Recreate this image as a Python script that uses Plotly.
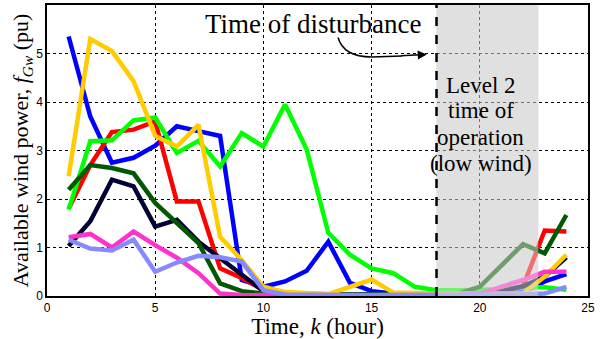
import plotly.graph_objects as go

hours = list(range(1, 25))

blue = [5.35, 3.7, 2.75, 2.85, 3.1, 3.5, 3.4, 3.3, 0.33, 0.19, 0.3, 0.52, 1.12, 0.27, 0.1,
        0.05, 0.04, 0.03, 0.03, 0.03, 0.04, 0.08, 0.3, 0.45]
red = [1.8, 2.7, 3.38, 3.43, 3.6, 1.95, 1.95, 0.57, 0.37, 0.12, 0.05, 0.03, 0.02, 0.02, 0.02,
       0.02, 0.02, 0.02, 0.02, 0.05, 0.1, 0.2, 1.35, 1.33]
yellow = [2.47, 5.3, 5.05, 4.43, 3.3, 3.08, 3.53, 1.22, 0.74, 0.19, 0.08, 0.05, 0.04, 0.19, 0.34,
          0.07, 0.05, 0.05, 0.05, 0.05, 0.05, 0.05, 0.4, 0.85]
green = [1.78, 3.19, 3.21, 3.62, 3.68, 2.95, 3.2, 2.67, 3.36, 3.08, 3.95, 3.02, 1.3, 0.85, 0.57,
         0.47, 0.19, 0.12, 0.12, 0.12, 0.14, 0.18, 0.18, 0.13]
darkgreen = [2.19, 2.7, 2.64, 2.53, 1.92, 1.5, 1.09, 0.26, 0.1, 0.05, 0.04, 0.03, 0.03, 0.03, 0.03,
             0.03, 0.03, 0.03, 0.05, 0.19, 0.64, 1.07, 0.88, 1.67]
navy = [1.03, 1.54, 2.4, 2.26, 1.43, 1.57, 1.12, 0.78, 0.45, 0.1, 0.05, 0.03, 0.03, 0.03, 0.03,
        0.03, 0.03, 0.03, 0.03, 0.05, 0.1, 0.2, 0.4, 0.8]
pink = [1.21, 1.28, 1.0, 1.33, 1.05, 0.79, 0.47, 0.05, 0.02, 0.01, 0.01, 0.01, 0.01, 0.01, 0.01,
        0.01, 0.01, 0.01, 0.02, 0.05, 0.19, 0.33, 0.5, 0.5]
lightblue = [1.16, 0.98, 0.94, 1.16, 0.5, 0.69, 0.83, 0.8, 0.71, 0.12, 0.03, 0.02, 0.02, 0.02, 0.02,
             0.02, 0.02, 0.02, 0.02, 0.02, 0.02, 0.03, 0.05, 0.19]

series = [
    ("Farm 1", blue, "#0000ff"),
    ("Farm 2", red, "#ff0000"),
    ("Farm 3", green, "#00ff00"),
    ("Farm 4", navy, "#000033"),
    ("Farm 5", darkgreen, "#005800"),
    ("Farm 6", yellow, "#ffcc00"),
    ("Farm 7", pink, "#ff33cc"),
    ("Farm 8", lightblue, "#8888ff"),
]

disturbance_hour = 18
level2_end = 22.7

x_ticks = [0, 5, 10, 15, 20, 25]
y_ticks = [0, 1, 2, 3, 4, 5, 6]

serif = "Liberation Serif"
sans = "Liberation Sans"

fig = go.Figure()
for name, vals, col in series:
    fig.add_trace(go.Scatter(x=hours, y=vals, mode="lines", name=name,
                             line=dict(color=col, width=4.5), showlegend=False))

# shaded region: opaque below grid, translucent above lines
fig.add_shape(type="rect", xref="x", yref="y", x0=disturbance_hour, x1=level2_end, y0=0, y1=6,
              fillcolor="#e0e0e0", line_width=0, layer="below")
fig.add_shape(type="rect", xref="x", yref="y", x0=disturbance_hour, x1=level2_end, y0=0, y1=6,
              fillcolor="rgba(224,224,224,0.5)", line_width=0, layer="above")
fig.add_shape(type="line", xref="x", yref="y", x0=disturbance_hour, x1=disturbance_hour, y0=0, y1=6,
              line=dict(color="black", width=2.5, dash="dash"), layer="above")

# curved arrow
fig.add_shape(type="path", xref="x", yref="y",
              path="M 13.45,5.33 Q 13.7,4.93 15.0,4.93 L 16.4,4.95",
              line=dict(color="black", width=1.5), layer="above")
fig.add_annotation(x=17.55, y=4.98, ax=16.3, ay=4.95, xref="x", yref="y", axref="x", ayref="y",
                   text="", showarrow=True, arrowhead=2, arrowsize=1.2, arrowwidth=1.5,
                   arrowcolor="black")

fig.add_annotation(x=12.3, y=5.6, xref="x", yref="y", text="Time of disturbance",
                   showarrow=False, font=dict(family=serif, size=27, color="black"),
                   xanchor="center", yanchor="middle")

level_lines = ["Level 2", "time of", "operation", "(low wind)"]
level_y = [4.35, 3.82, 3.26, 2.74]
for txt, yy in zip(level_lines, level_y):
    fig.add_annotation(x=20.05, y=yy, xref="x", yref="y", text=txt, showarrow=False,
                       font=dict(family=serif, size=23, color="black"),
                       xanchor="center", yanchor="middle")

fig.update_xaxes(range=[0, 25], tickvals=x_ticks, ticktext=[str(v) for v in x_ticks],
                 showgrid=True, gridcolor="black", griddash="dot", gridwidth=1,
                 showline=True, linecolor="black", linewidth=1.5, mirror=True,
                 ticks="", zeroline=False, automargin=False,
                 tickfont=dict(family=sans, size=12, color="black"),
                 title=dict(text="Time, <i>k</i> (hour)", font=dict(family=serif, size=23, color="black"),
                            standoff=4))
fig.update_yaxes(range=[0, 6], tickvals=y_ticks, ticktext=[str(v) for v in y_ticks],
                 showgrid=True, gridcolor="black", griddash="dot", gridwidth=1,
                 showline=True, linecolor="black", linewidth=1.5, mirror=True,
                 ticks="", zeroline=False, automargin=False,
                 tickfont=dict(family=sans, size=12, color="black"),
                 title=dict(text="Available wind power, <i>f</i><sub><i>Gw</i></sub> (pu)",
                            font=dict(family=serif, size=22, color="black"), standoff=1))

fig.update_layout(width=616, height=339, margin=dict(l=47, r=28, t=5, b=43),
                  plot_bgcolor="white", paper_bgcolor="white")

fig.write_html("out.html")
